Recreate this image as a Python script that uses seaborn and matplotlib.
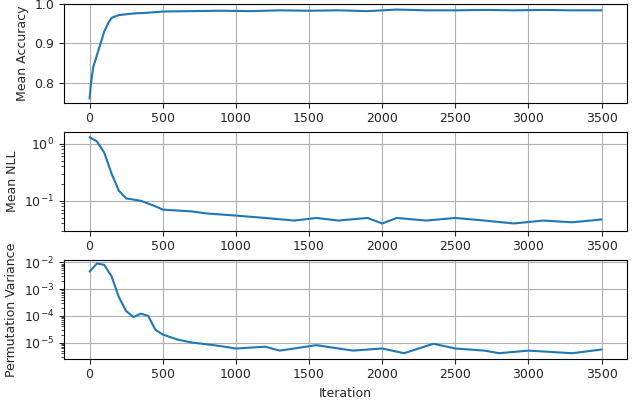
import numpy as np
import pandas as pd
import matplotlib
matplotlib.use("Agg")
import matplotlib.pyplot as plt
import matplotlib.ticker as mticker
import seaborn as sns

acc_iter = [0, 10, 25, 50, 75, 100, 125, 150, 200, 250, 300, 400, 500, 700, 900, 1100, 1300, 1500, 1700, 1900, 2100, 2300, 2500, 2700, 2900, 3100, 3300, 3500]
acc_val = [0.76, 0.80, 0.84, 0.87, 0.90, 0.93, 0.95, 0.965, 0.972, 0.974, 0.976, 0.978, 0.981, 0.982, 0.983, 0.982, 0.984, 0.983, 0.984, 0.982, 0.986, 0.984, 0.984, 0.985, 0.984, 0.985, 0.984, 0.984]

nll_iter = [0, 50, 100, 150, 200, 250, 350, 450, 500, 700, 800, 1000, 1200, 1400, 1550, 1700, 1900, 2000, 2100, 2300, 2500, 2700, 2900, 3100, 3300, 3500]
nll_val = [1.3, 1.1, 0.7, 0.3, 0.15, 0.11, 0.1, 0.08, 0.07, 0.065, 0.06, 0.055, 0.05, 0.045, 0.05, 0.045, 0.05, 0.04, 0.05, 0.045, 0.05, 0.045, 0.04, 0.045, 0.042, 0.047]

var_iter = [0, 50, 100, 150, 200, 250, 300, 350, 400, 450, 500, 600, 700, 850, 1000, 1200, 1300, 1550, 1800, 2000, 2150, 2350, 2500, 2700, 2800, 3000, 3300, 3500]
var_val = [4.5e-3, 9e-3, 8e-3, 3e-3, 5e-4, 1.5e-4, 9e-5, 1.2e-4, 1e-4, 3e-5, 2e-5, 1.3e-5, 1e-5, 8e-6, 6e-6, 7e-6, 5e-6, 8e-6, 5e-6, 6e-6, 4e-6, 9e-6, 6e-6, 5e-6, 4e-6, 5e-6, 4e-6, 5.5e-6]

sns.set_style("whitegrid", {"axes.edgecolor": "black", "grid.color": "#b0b0b0"})
fig, axes = plt.subplots(3, 1, figsize=(6.4, 4.03), dpi=100)
color = "#1f77b4"

sns.lineplot(x=acc_iter, y=acc_val, ax=axes[0], color=color, lw=1.5)
axes[0].set_ylim(0.75, 1.0)
axes[0].set_yticks([0.8, 0.9, 1.0])
axes[0].set_ylabel("Mean Accuracy")

sns.lineplot(x=nll_iter, y=nll_val, ax=axes[1], color=color, lw=1.5)
axes[1].set_yscale("log")
axes[1].set_ylim(0.03, 1.6)
axes[1].set_ylabel("Mean NLL")

sns.lineplot(x=var_iter, y=var_val, ax=axes[2], color=color, lw=1.5)
axes[2].set_yscale("log")
axes[2].set_ylim(2.5e-6, 1.2e-2)
axes[2].yaxis.set_major_locator(mticker.LogLocator(base=10, numticks=20))
axes[2].set_ylabel("Permutation Variance")
axes[2].set_xlabel("Iteration")

for ax in axes[1:]:
    ax.yaxis.set_minor_locator(mticker.LogLocator(base=10, subs=np.arange(2, 10), numticks=20))
    ax.yaxis.set_minor_formatter(mticker.NullFormatter())

for ax in axes:
    ax.set_xlim(-175, 3675)
    ax.set_xticks(range(0, 3501, 500))
    ax.tick_params(which="major", labelsize=9, left=True, bottom=True, length=3.5, width=0.8)
    ax.tick_params(which="minor", left=True, length=2, width=0.6)
    ax.yaxis.label.set_size(9)
    ax.xaxis.label.set_size(9)
    ax.grid(True, which="major")
    ax.grid(False, which="minor")

fig.subplots_adjust(left=0.1, right=0.98, top=0.99, bottom=0.11, hspace=0.3)
fig.savefig("out.png")
